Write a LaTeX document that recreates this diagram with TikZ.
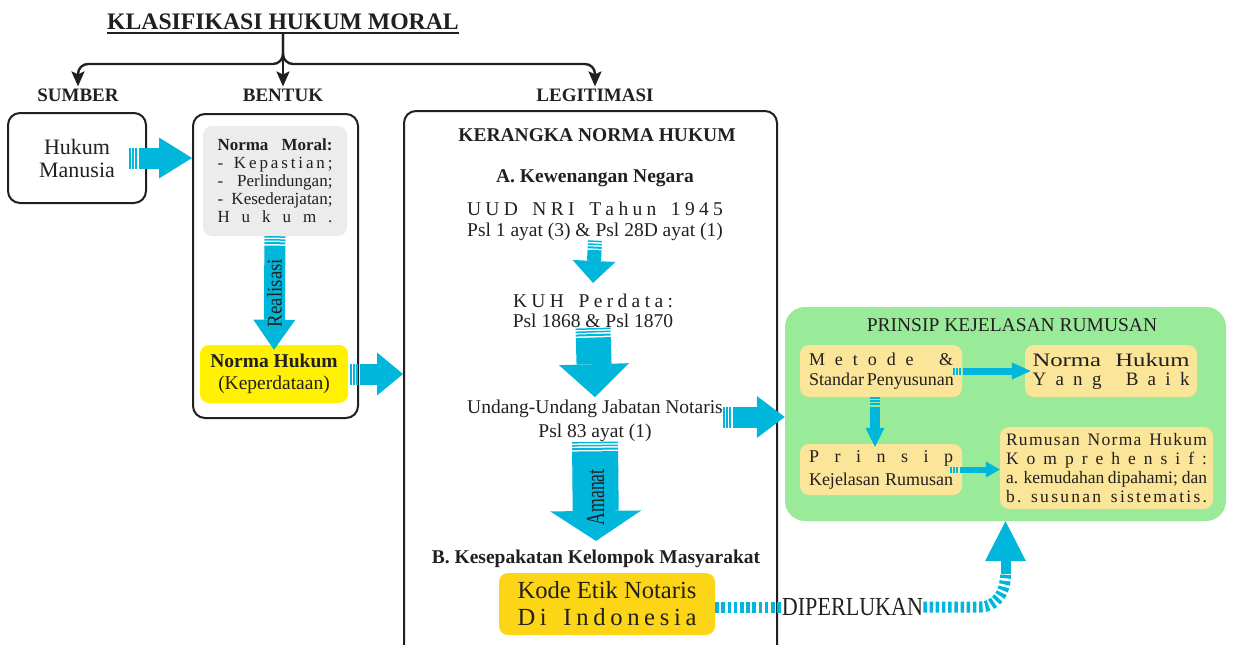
\documentclass[tikz,border=0pt]{standalone}
\usepackage{fontspec}
\setmainfont{Liberation Serif}
\usetikzlibrary{arrows.meta}
\definecolor{ink}{RGB}{35,31,32}
\definecolor{flow}{RGB}{0,182,218}
\definecolor{lemon}{RGB}{255,241,0}
\definecolor{gold}{RGB}{252,214,22}
\definecolor{mint}{RGB}{153,235,153}
\definecolor{cream}{RGB}{250,229,152}
\definecolor{ash}{RGB}{236,236,236}
\newcommand{\fz}[2]{\fontsize{#1}{#2}\selectfont}
\ExplSyntaxOn
\seq_new:N \l__ls_words_seq
\bool_new:N \l__ls_word_bool
\bool_new:N \l__ls_char_bool
\cs_new_protected:Npn \__ls_word:n #1
  {
    \bool_set_true:N \l__ls_char_bool
    \tl_map_inline:nn {#1}
      {
        \bool_if:NF \l__ls_char_bool { \hfil }
        \bool_set_false:N \l__ls_char_bool
        ##1
      }
  }
\NewDocumentCommand \spaced { m m }
  {
    \seq_set_split:Nnn \l__ls_words_seq { | } {#2}
    \makebox[#1][s]
      {
        \bool_set_true:N \l__ls_word_bool
        \seq_map_inline:Nn \l__ls_words_seq
          {
            \bool_if:NF \l__ls_word_bool { \hfil \hspace{0.3em} \hfil }
            \bool_set_false:N \l__ls_word_bool
            \__ls_word:n {##1}
          }
      }
  }
\ExplSyntaxOff
\tikzset{
  branch/.style={draw=ink, line width=2.4pt, -{Stealth[length=15pt,width=13pt,inset=3pt]}},
  fat/.style n args={3}{draw=flow, line width=#1,
    dash pattern=on 1.5pt off 1.5pt on 1.5pt off 1.5pt on 2pt off 1.5pt on 3000pt,
    -{Triangle[length=#2,width=#3,line width=0pt]}},
  dotflow/.style={draw=flow, line width=11pt, dash pattern=on 3.5pt off 2.7pt},
  frame/.style={draw=ink, line width=2pt, rounded corners=12pt},
  pad/.style={rounded corners=9pt, align=center, inner sep=0pt, text=ink},
  txt/.style={inner sep=0pt, align=center, text=ink},
}
\begin{document}
\begin{tikzpicture}[x=1pt,y=-1pt]
\useasboundingbox (0,0) rectangle (1234,645);
\clip (0,0) rectangle (1234,645);

\node[txt, font=\fz{23.7}{26}\bfseries] (title) at (283,22) {KLASIFIKASI HUKUM MORAL};
\draw[draw=ink, line width=1.8pt] ([yshift=-3pt]title.base west) -- ([yshift=-3pt]title.base east);
\coordinate (stem) at ([yshift=-3pt]title.base);
\coordinate (fork) at (283,64);

\node[txt, font=\fz{19}{21}\bfseries] (sumber) at (78,95) {SUMBER};
\node[txt, font=\fz{19}{21}\bfseries] (bentuk) at (283,95) {BENTUK};
\node[txt, font=\fz{19}{21}\bfseries] (legit) at (595,95) {LEGITIMASI};
\draw[branch, rounded corners=10pt] (stem) -- (fork) -| ([yshift=2pt]sumber.north);
\draw[branch, rounded corners=10pt] (stem) -- (fork) -| ([yshift=2pt]legit.north);
\draw[branch] (stem) -- ([yshift=2pt]bentuk.north);

\node[frame, txt, font=\fz{22}{23}, minimum width=138pt, minimum height=90pt] (hukum) at (77,158) {Hukum\\Manusia};
\node[frame, minimum width=165pt, minimum height=304pt] (bentukbox) at (275.5,266) {};
\node[pad, fill=ash, minimum width=144pt, minimum height=110pt, font=\fz{17}{18}] (moral) at (275,181)
  {\makebox[115pt][s]{\bfseries Norma Moral:}\\\spaced{115pt}{-|Kepastian;}\\\makebox[115pt][s]{- Perlindungan;}\\\makebox[115pt][s]{- Kesederajatan;}\\\spaced{115pt}{Hukum.}};
\node[pad, fill=lemon, minimum width=148pt, minimum height=58pt, font=\fz{19.5}{22}] (yel) at (274,374) {\textbf{Norma Hukum}\\(Keperdataan)};
\node[frame, minimum width=373pt, minimum height=549pt] (legitbox) at (590.5,385.5) {};
\node[pad, fill=mint, rounded corners=20pt, minimum width=441pt, minimum height=214pt] (green) at (1005.5,414) {};

\draw[fat={21pt}{33pt}{41pt}] ([xshift=-18pt]hukum.east) -- (hukum.east -| bentukbox.west);
\draw[fat={21pt}{30pt}{42pt}] (moral.south) -- ([yshift=-5pt]yel.north)
  node[pos=0.5, rotate=90, text=ink, font=\fz{21}{21}] {\scalebox{0.9}[1]{Realisasi}};
\draw[fat={21pt}{26pt}{43pt}] ([xshift=2pt]yel.east) -- (yel.east -| legitbox.west);

\node[txt, font=\fz{19.5}{21}\bfseries] (kerangka) at (597,135) {KERANGKA NORMA HUKUM};
\node[txt, font=\fz{19.5}{21}\bfseries] (kewenangan) at (595,178) {A. Kewenangan Negara};
\node[txt, font=\fz{19.5}{21}] (uud) at (595,221) {\spaced{256pt}{UUD|NRI|Tahun|1945}\\Psl 1 ayat (3) \& Psl 28D ayat (1)};
\node[txt, font=\fz{19.5}{20}] (kuh) at (593,311) {\spaced{160pt}{KUH|Perdata:}\\Psl 1868 \& Psl 1870};
\node[txt, font=\fz{19.5}{23.5}] (uujn) at (595,421) {Undang-Undang Jabatan Notaris\\Psl 83 ayat (1)};
\node[txt, font=\fz{19.5}{21}\bfseries] (sepakat) at (596,559) {B. Kesepakatan Kelompok Masyarakat};
\node[pad, fill=gold, minimum width=216pt, minimum height=62pt, font=\fz{24.6}{27}] (kode) at (607,604) {Kode Etik Notaris\\\spaced{179pt}{Di|Indonesia}};

\draw[fat={14pt}{22pt}{43pt}] (uud.south) -- ([yshift=11pt]kuh.north);
\draw[fat={35pt}{33pt}{70pt}] (kuh.south) -- ([yshift=3pt]uujn.north);
\draw[fat={46pt}{30pt}{91pt}] (uujn.south) -- ([yshift=9pt]sepakat.north)
  node[pos=0.56, rotate=90, text=ink, font=\fz{26}{26}] {\scalebox{0.68}[1]{Amanat}};
\draw[fat={21pt}{28pt}{42pt}] ([yshift=4pt]uujn.east) -- ([yshift=4pt]uujn.east -| green.west);

\node[txt, font=\fz{19.5}{21}] (prinsip) at (1012,325) {PRINSIP KEJELASAN RUMUSAN};
\node[pad, fill=cream, minimum width=162pt, minimum height=52pt, font=\fz{18}{20}] (metode) at (881,371)
  {\spaced{144pt}{Metode|\&}\\\makebox[144pt][s]{Standar Penyusunan}};
\node[pad, fill=cream, minimum width=172pt, minimum height=52pt, font=\fz{19}{19}] (baik) at (1111,371)
  {\makebox[157pt][s]{\scalebox{1.3}[1]{Norma} \scalebox{1.3}[1]{Hukum}}\\\spaced{157pt}{Yang|Baik}};
\node[pad, fill=cream, minimum width=162pt, minimum height=51pt, font=\fz{18}{23}] (kejelasan) at (881,469.5)
  {\spaced{144pt}{Prinsip}\\\makebox[144pt][s]{Kejelasan Rumusan}};
\node[pad, fill=cream, minimum width=213pt, minimum height=82pt, font=\fz{17.5}{19}] (rumusan) at (1106.5,468)
  {\spaced{201pt}{Rumusan|Norma|Hukum}\\\spaced{201pt}{Komprehensif:}\\\makebox[201pt][s]{a. kemudahan dipahami; dan}\\\spaced{201pt}{b.|susunan|sistematis.}};

\draw[fat={7pt}{19pt}{17pt}] ([xshift=-9pt]metode.east) -- ([xshift=6pt]metode.east -| baik.west);
\draw[fat={10pt}{19pt}{19pt}] ([xshift=-6pt]metode.south) -- ([xshift=-6pt,yshift=-3pt]kejelasan.north);
\draw[fat={6pt}{14pt}{16pt}] ([xshift=-12pt]kejelasan.east) -- (kejelasan.east -| rumusan.west);

\node[txt, font=\fz{26}{26}] (dip) at (852.5,607) {\scalebox{0.85}[1]{DIPERLUKAN}};
\coordinate (elbow) at (980,607);
\coordinate (turn) at ([yshift=-53pt]green.south);
\draw[dotflow] (kode.east |- dip.west) -- (dip.west);
\draw[dotflow] (dip.east) -- (elbow) .. controls (996,607) and (1005.5,593) .. (turn);
\draw[fat={10pt}{40pt}{41pt}, solid] (turn) -- (green.south);
\end{tikzpicture}
\end{document}
